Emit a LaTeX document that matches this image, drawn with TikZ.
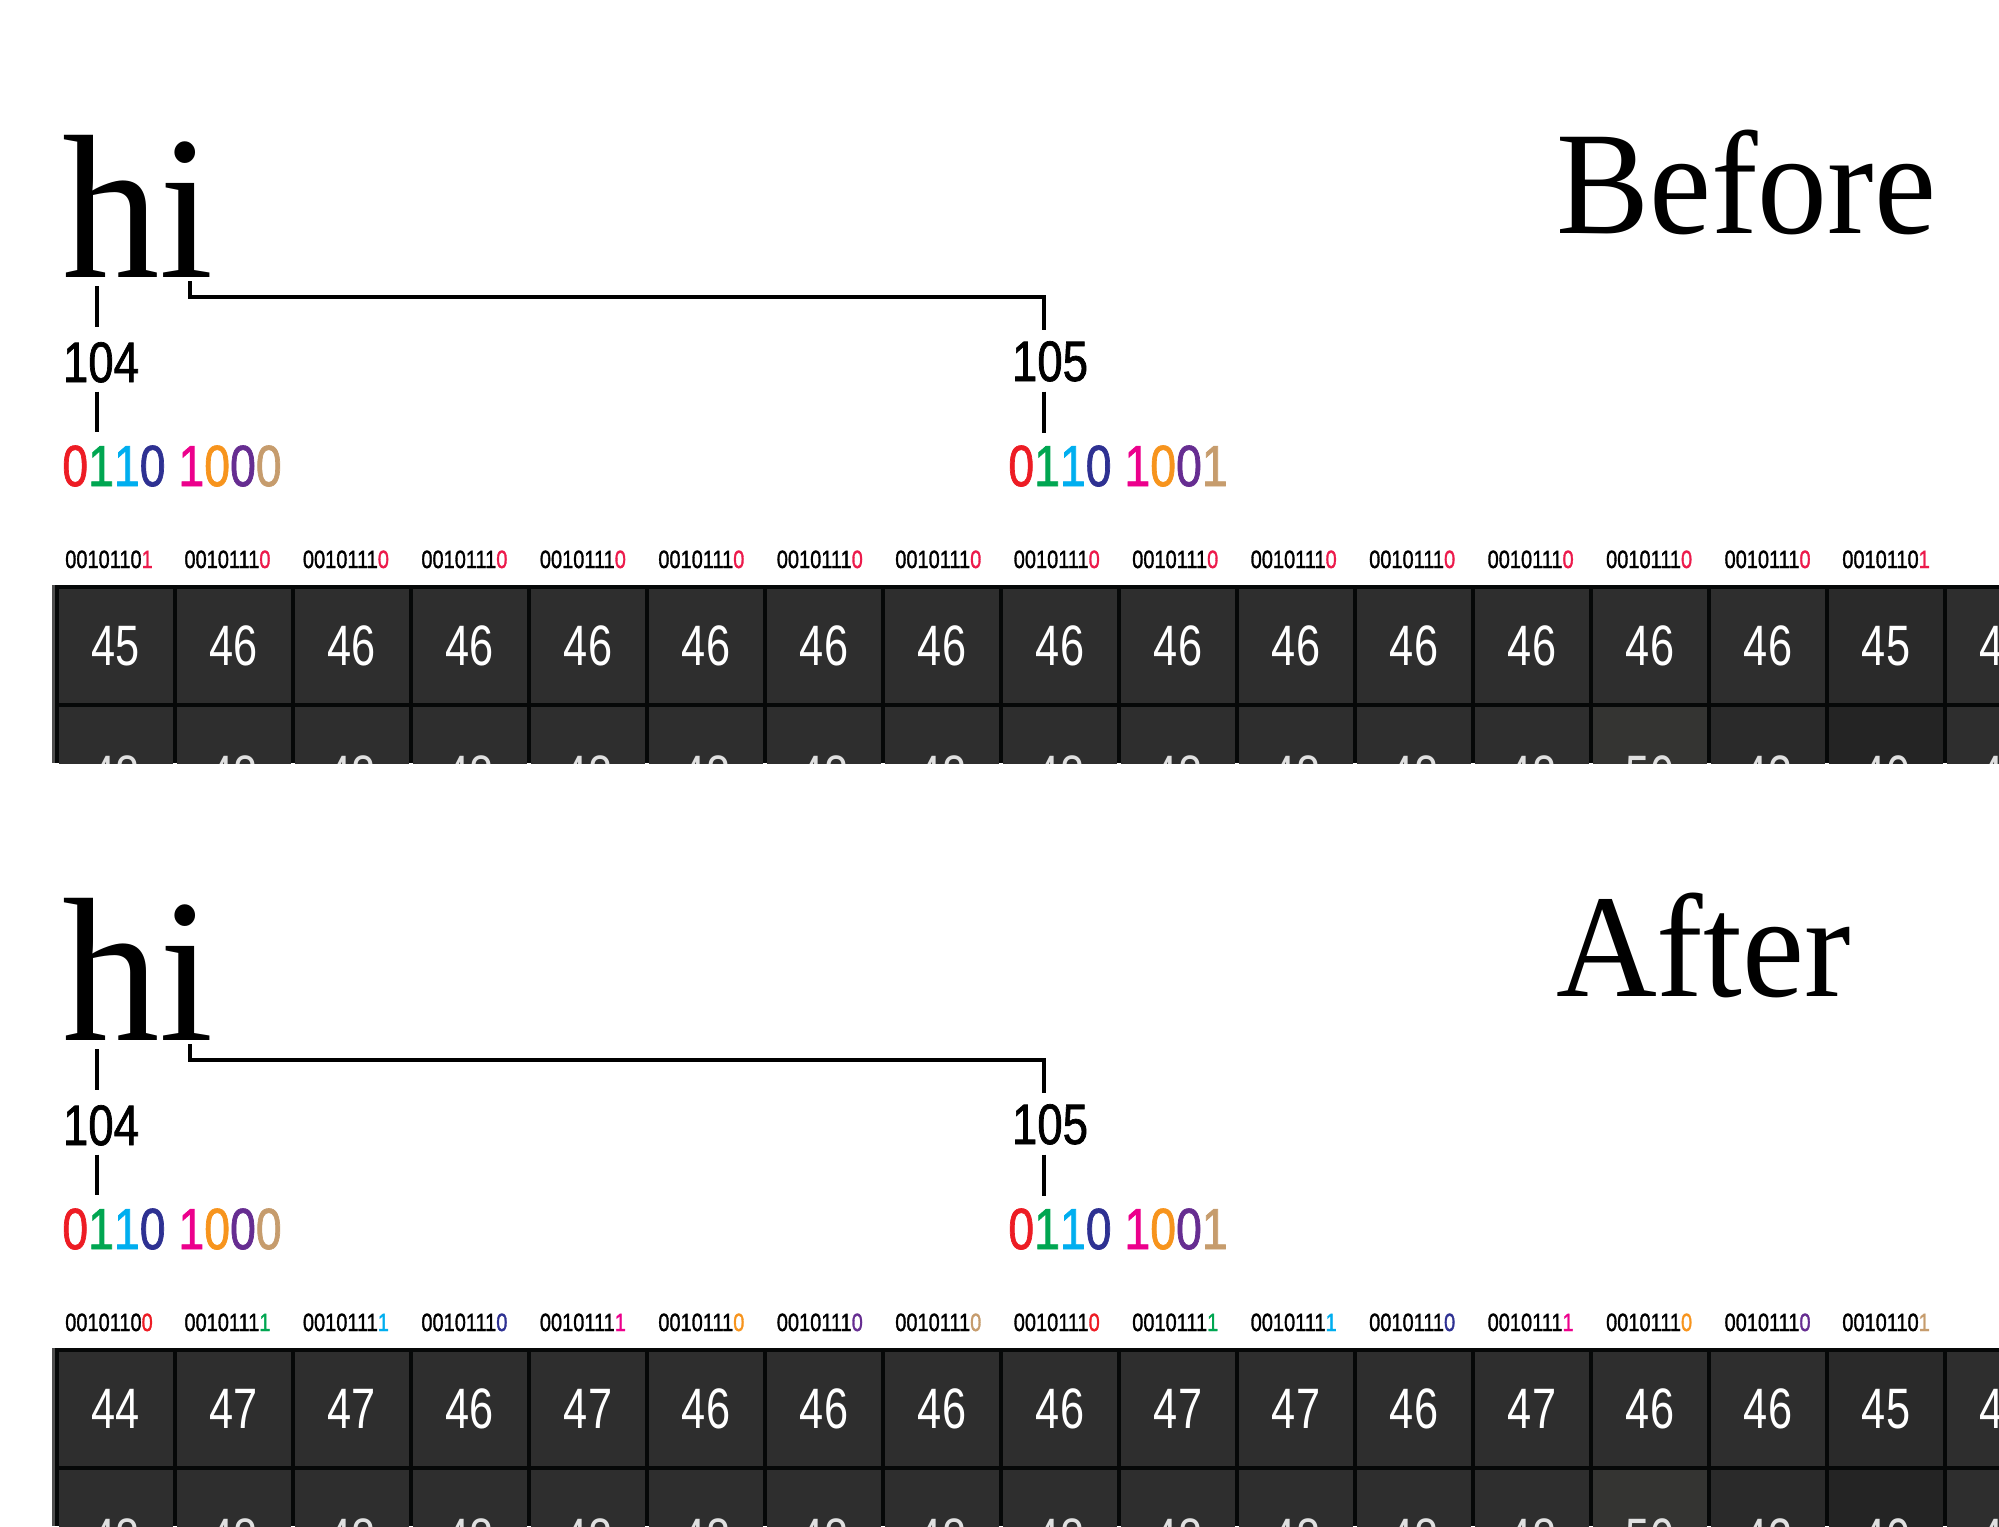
\documentclass[tikz,border=0pt]{standalone}
\usepackage{fontspec}
\setmainfont{Liberation Serif}
\newfontfamily\wordfont[FakeStretch=0.95]{Liberation Serif}
\newfontfamily\dinfont[FakeStretch=0.8,FakeBold=1.2]{Liberation Sans}
\newfontfamily\cellfont[FakeStretch=0.76]{Liberation Sans}
\usetikzlibrary{positioning}

\definecolor{bitred}{HTML}{ED1C24}
\definecolor{bitgreen}{HTML}{00A651}
\definecolor{bitcyan}{HTML}{00AEEF}
\definecolor{bitnavy}{HTML}{2E3192}
\definecolor{bitpink}{HTML}{EC008C}
\definecolor{bitorange}{HTML}{F7941D}
\definecolor{bitpurple}{HTML}{662D91}
\definecolor{bittan}{HTML}{C69C6D}
\definecolor{lsbred}{HTML}{EC1A4B}
\definecolor{cellgray}{HTML}{2E2E2E}
\definecolor{cellgraylight}{HTML}{343432}
\definecolor{cellgraydark}{HTML}{2A2A2A}
\definecolor{cellgraydeep}{HTML}{242424}
\definecolor{gridline}{HTML}{060808}
\definecolor{gridedge}{HTML}{4E4E4E}

\newcommand{\bitsof}[8]{\textcolor{bitred}{#1}\textcolor{bitgreen}{#2}\textcolor{bitcyan}{#3}\textcolor{bitnavy}{#4} \textcolor{bitpink}{#5}\textcolor{bitorange}{#6}\textcolor{bitpurple}{#7}\textcolor{bittan}{#8}}
\newcommand{\lowered}[1]{\vphantom{#1}\smash{\raisebox{-12pt}{#1}}}

\begin{document}
\begin{tikzpicture}[
  x=1pt, y=-1pt,
  every node/.style={inner sep=0pt, outer sep=0pt},
  word/.style={font=\wordfont\fontsize{205}{205}\selectfont, anchor=base west},
  title/.style={font=\wordfont\fontsize{147}{147}\selectfont, anchor=base west},
  dec/.style={font=\dinfont\fontsize{57}{57}\selectfont, anchor=base},
  bin/.style={font=\dinfont\fontsize{58}{58}\selectfont, anchor=base},
  bitlabel/.style={font=\dinfont\fontsize{25}{25}\selectfont, anchor=base},
  cell/.style={fill=#1, minimum width=114pt, minimum height=114pt,
    font=\cellfont\fontsize{57}{57}\selectfont, text=white},
  cell/.default=cellgray,
  faded/.style={text=white!85!cellgray},
  link/.style={line width=3.6pt}
]
\useasboundingbox (0,0) rectangle (1999,1526);
\clip (0,0) rectangle (1999,1526);

% ---- before ----
\node[word] (hi-top) at (62,277) {hi};
\node[title] (before) at (1556,233) {Before};
\node[dec] (dec-h-top) at (101,382) {104};
\node[dec] (dec-i-top) at (1050,381) {105};
\node[bin] (bin-h-top) at (172,486) {\bitsof01101000};
\node[bin] (bin-i-top) at (1118,486) {\bitsof01101001};
\coordinate (h-foot-top) at (97,286);
\coordinate (i-foot-top) at (190,281);
\coordinate (i-stem-top) at (1044,297);
\draw[link, shorten >=15pt] (h-foot-top) -- (h-foot-top |- dec-h-top.north);
\draw[link, shorten <=9pt, shorten >=14pt] (h-foot-top |- dec-h-top.south) -- (h-foot-top |- bin-h-top.north);
\draw[link, shorten >=11pt] (i-foot-top) |- (i-stem-top) -- (i-stem-top |- dec-i-top.north);
\draw[link, shorten <=10pt, shorten >=13pt] (i-stem-top |- dec-i-top.south) -- (i-stem-top |- bin-i-top.north);

\foreach \pre/\last [count=\i from 0] in {0010110/1,0010111/0,0010111/0,0010111/0,
    0010111/0,0010111/0,0010111/0,0010111/0,0010111/0,0010111/0,0010111/0,
    0010111/0,0010111/0,0010111/0,0010111/0,0010110/1}
  \node[bitlabel] (top-b\i) at (109+118.47*\i,568) {\pre\textcolor{lsbred}{\last}};

\begin{scope}
  \clip (0,585) rectangle (1999,763);
  \fill[gridedge] (52,585) rectangle (55,763);
  \fill[gridline] (55,585) rectangle (1999,763);
  \foreach \v/\c [count=\i from 0] in {45/cellgray,46/cellgray,46/cellgray,46/cellgray,
      46/cellgray,46/cellgray,46/cellgray,46/cellgray,46/cellgray,46/cellgray,
      46/cellgray,46/cellgray,46/cellgray,46/cellgray,46/cellgray,45/cellgraydark,
      45/cellgray}
    \node[cell=\c] (top-a\i) at (116+118*\i,646) {\v};
  \foreach \v/\c [count=\i from 0] in {48/cellgray,48/cellgray,48/cellgray,48/cellgray,
      48/cellgray,48/cellgray,48/cellgray,48/cellgray,48/cellgray,48/cellgray,
      48/cellgray,48/cellgray,48/cellgray,50/cellgraylight,43/cellgraydark,
      40/cellgraydeep,48/cellgray}
    \node[cell=\c, faded] (top-c\i) at (116+118*\i,764) {\lowered{\v}};
\end{scope}

% ---- after ----
\begin{scope}[yshift=-763pt]
\node[word] (hi-bot) at (62,277) {hi};
\node[title] (after) at (1556,233) {After};
\node[dec] (dec-h-bot) at (101,382) {104};
\node[dec] (dec-i-bot) at (1050,381) {105};
\node[bin] (bin-h-bot) at (172,486) {\bitsof01101000};
\node[bin] (bin-i-bot) at (1118,486) {\bitsof01101001};
\coordinate (h-foot-bot) at (97,286);
\coordinate (i-foot-bot) at (190,281);
\coordinate (i-stem-bot) at (1044,297);
\draw[link, shorten >=15pt] (h-foot-bot) -- (h-foot-bot |- dec-h-bot.north);
\draw[link, shorten <=9pt, shorten >=14pt] (h-foot-bot |- dec-h-bot.south) -- (h-foot-bot |- bin-h-bot.north);
\draw[link, shorten >=11pt] (i-foot-bot) |- (i-stem-bot) -- (i-stem-bot |- dec-i-bot.north);
\draw[link, shorten <=10pt, shorten >=13pt] (i-stem-bot |- dec-i-bot.south) -- (i-stem-bot |- bin-i-bot.north);

\foreach \pre/\last/\col [count=\i from 0] in {0010110/0/bitred,0010111/1/bitgreen,
    0010111/1/bitcyan,0010111/0/bitnavy,0010111/1/bitpink,0010111/0/bitorange,
    0010111/0/bitpurple,0010111/0/bittan,0010111/0/bitred,0010111/1/bitgreen,
    0010111/1/bitcyan,0010111/0/bitnavy,0010111/1/bitpink,0010111/0/bitorange,
    0010111/0/bitpurple,0010110/1/bittan}
  \node[bitlabel] (bot-b\i) at (109+118.47*\i,568) {\pre\textcolor{\col}{\last}};

\begin{scope}
  \clip (0,585) rectangle (1999,763);
  \fill[gridedge] (52,585) rectangle (55,763);
  \fill[gridline] (55,585) rectangle (1999,763);
  \foreach \v/\c [count=\i from 0] in {44/cellgray,47/cellgray,47/cellgray,46/cellgray,
      47/cellgray,46/cellgray,46/cellgray,46/cellgray,46/cellgray,47/cellgray,
      47/cellgray,46/cellgray,47/cellgray,46/cellgray,46/cellgray,45/cellgraydark,
      45/cellgray}
    \node[cell=\c] (bot-a\i) at (116+118*\i,646) {\v};
  \foreach \v/\c [count=\i from 0] in {48/cellgray,48/cellgray,48/cellgray,48/cellgray,
      48/cellgray,48/cellgray,48/cellgray,48/cellgray,48/cellgray,48/cellgray,
      48/cellgray,48/cellgray,48/cellgray,50/cellgraylight,43/cellgraydark,
      40/cellgraydeep,48/cellgray}
    \node[cell=\c, faded] (bot-c\i) at (116+118*\i,764) {\lowered{\v}};
\end{scope}
\end{scope}
\end{tikzpicture}
\end{document}
